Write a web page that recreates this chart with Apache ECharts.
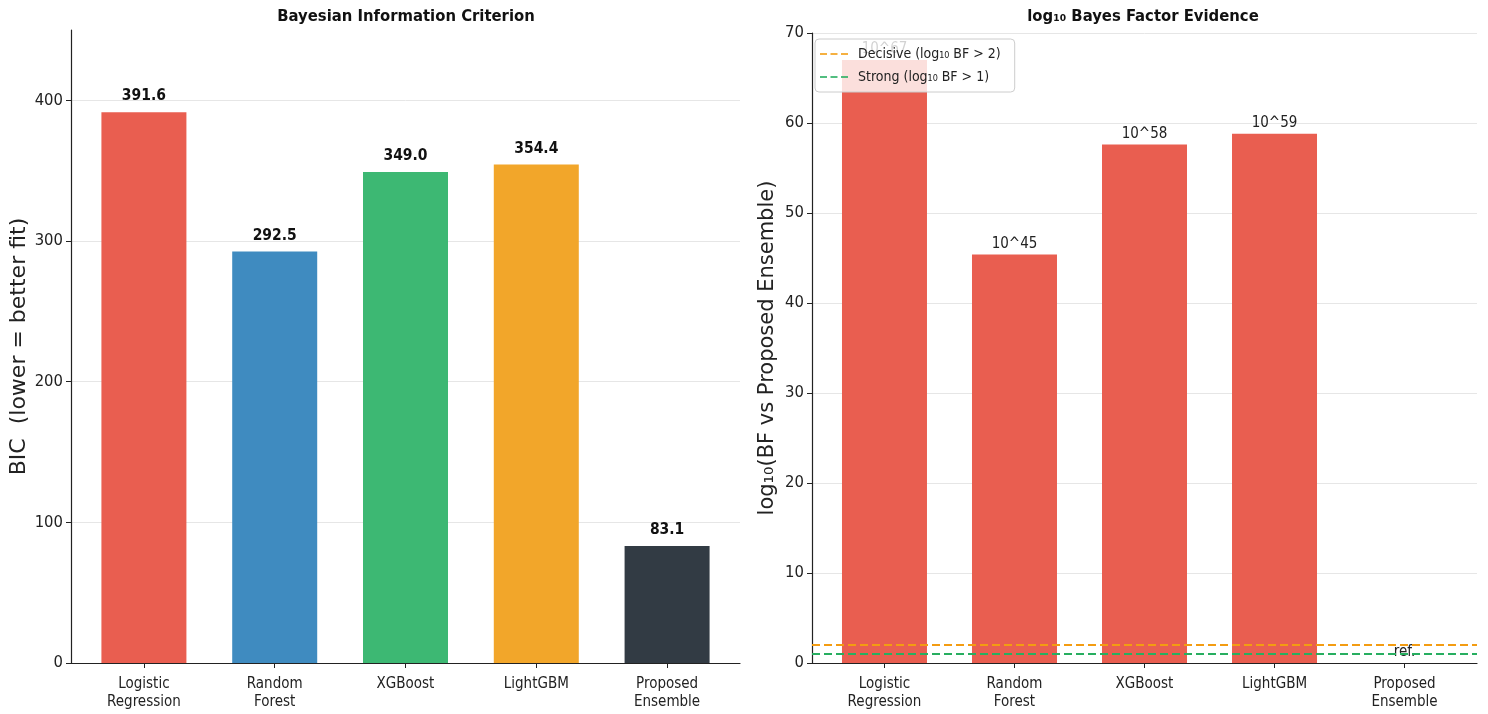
<!DOCTYPE html>
<html><head><meta charset="utf-8">
<script src="https://cdn.jsdelivr.net/npm/echarts@6/dist/echarts.min.js"></script>
<style>html,body{margin:0;padding:0;background:#fff}#c{width:1488px;height:714px}</style>
</head><body><div id="c"></div>
<script>
const categories = ['Logistic\nRegression', 'Random\nForest', 'XGBoost', 'LightGBM', 'Proposed\nEnsemble'];
const bicValues = [391.6, 292.5, 349.0, 354.4, 83.1];
const bicColors = ['#E95E50', '#3F8BC0', '#3DB873', '#F2A62A', '#323B44'];
const log10BF = [67.0, 45.4, 57.6, 58.8, 0];
const bfColor = '#E95E50';
const decisiveThreshold = 2;
const strongThreshold = 1;
const bicTicks = [0, 100, 200, 300, 400];
const bfTicks = [0, 10, 20, 30, 40, 50, 60, 70];
const catIdx = categories.map((_, i) => i);

const FC = 'DejaVu Sans Condensed, DejaVu Sans, sans-serif';
const F = 'DejaVu Sans, sans-serif';
const chart = echarts.init(document.getElementById('c'));
const xLo = -0.5575, xHi = 4.5575;
const dashIcon = 'path://M0,0h7v2h-7zM10.5,0h7v2h-7zM21,0h7v2h-7z';

function xAxis(gi) {
  return {
    type: 'value', gridIndex: gi, min: xLo, max: xHi,
    axisLine: {show: true, onZero: false, lineStyle: {color: '#222', width: 1.2}},
    axisTick: {show: true, length: 5, customValues: catIdx, lineStyle: {color: '#222'}},
    axisLabel: {customValues: catIdx, formatter: v => categories[Math.round(v)] || '', color: '#222',
      fontFamily: FC, fontSize: 15, lineHeight: 18, margin: 12},
    splitLine: {show: false}
  };
}
function yAxis(gi, max, ticks, name, nameGap, nameSize) {
  return {
    type: 'value', gridIndex: gi, min: 0, max: max,
    name: name, nameLocation: 'middle', nameGap: nameGap,
    nameTextStyle: {fontFamily: F, fontSize: nameSize, color: '#222'},
    axisLine: {show: true, onZero: false, lineStyle: {color: '#222', width: 1.2}},
    axisTick: {show: true, length: 5, customValues: ticks, lineStyle: {color: '#222'}},
    axisLabel: {customValues: ticks, color: '#222', fontFamily: FC, fontSize: 16.5, margin: 8},
    splitLine: {show: true, lineStyle: {color: '#e6e6e6', width: 1}}
  };
}

chart.setOption({
  animation: false,
  title: [
    {text: 'Bayesian Information Criterion', left: 401, top: 3, textAlign: 'center',
      textStyle: {fontFamily: FC, fontSize: 16.5, fontWeight: 'bold', color: '#111'}},
    {text: 'log₁₀ Bayes Factor Evidence', left: 1138, top: 3, textAlign: 'center',
      textStyle: {fontFamily: FC, fontSize: 16.5, fontWeight: 'bold', color: '#111'}}
  ],
  grid: [
    {left: 71, right: 748, top: 30, bottom: 51},
    {left: 812, right: 11, top: 33, bottom: 51}
  ],
  legend: {
    left: 815, top: 39, orient: 'vertical', itemGap: 9, itemWidth: 28, itemHeight: 2,
    padding: [8, 14, 8, 5],
    backgroundColor: 'rgba(255,255,255,0.8)', borderColor: '#cccccc', borderWidth: 1, borderRadius: 4,
    textStyle: {fontFamily: FC, fontSize: 14, color: '#222', padding: [0, 0, 0, 5]},
    data: [{name: 'Decisive (log₁₀ BF > 2)', icon: dashIcon}, {name: 'Strong (log₁₀ BF > 1)', icon: dashIcon}]
  },
  xAxis: [xAxis(0), xAxis(1)],
  yAxis: [
    yAxis(0, 450, bicTicks, 'BIC  (lower = better fit)', 39, 22),
    yAxis(1, 70, bfTicks, 'log₁₀(BF vs Proposed Ensemble)', 34, 21)
  ],
  series: [
    {
      type: 'bar', xAxisIndex: 0, yAxisIndex: 0, barWidth: 85,
      data: bicValues.map((v, i) => ({value: [i, v], itemStyle: {color: bicColors[i]}})),
      label: {show: true, position: 'top', distance: 8, formatter: p => p.value[1].toFixed(1),
        fontFamily: FC, fontSize: 15.5, fontWeight: 'bold', color: '#111'}
    },
    {
      type: 'bar', xAxisIndex: 1, yAxisIndex: 1, barWidth: 85, z: 2,
      data: log10BF.map((v, i) => ({value: [i, v]})),
      itemStyle: {color: bfColor},
      label: {show: true, position: 'top', distance: 3,
        formatter: p => p.value[1] === 0 ? 'ref.' : '10^' + Math.round(p.value[1]),
        fontFamily: FC, fontSize: 15, color: '#222'}
    },
    {
      name: 'Decisive (log₁₀ BF > 2)', type: 'scatter', xAxisIndex: 1, yAxisIndex: 1, data: [],
      itemStyle: {color: '#F39C12'},
      markLine: {silent: true, symbol: 'none', label: {show: false},
        lineStyle: {color: '#F39C12', type: [8, 4], width: 2}, data: [{yAxis: decisiveThreshold}]}
    },
    {
      name: 'Strong (log₁₀ BF > 1)', type: 'scatter', xAxisIndex: 1, yAxisIndex: 1, data: [],
      itemStyle: {color: '#27AE60'},
      markLine: {silent: true, symbol: 'none', label: {show: false},
        lineStyle: {color: '#27AE60', type: [8, 4], width: 2}, data: [{yAxis: strongThreshold}]}
    }
  ]
});
</script></body></html>
